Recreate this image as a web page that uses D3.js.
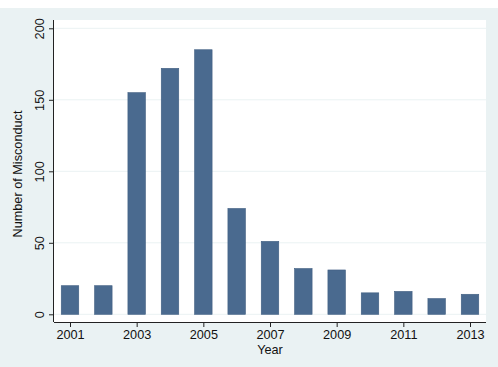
<!DOCTYPE html>
<meta charset="utf-8">
<script src="https://d3js.org/d3.v7.min.js"></script>
<style>
  body { margin: 0; background: #fff; }
  text { font-family: "Liberation Sans", Arial, sans-serif; fill: #111; }
</style>
<div id="my_dataviz"></div>
<script>
// data
var years = [2001, 2002, 2003, 2004, 2005, 2006, 2007, 2008, 2009, 2010, 2011, 2012, 2013];
var counts = [20, 20, 155, 172, 185, 74, 51, 32, 31, 15, 16, 11, 14];
var xTicks = [2001, 2003, 2005, 2007, 2009, 2011, 2013];
var yTicks = [0, 50, 100, 150, 200];

var W = 498, H = 367;
var fs = 12.7;
var svg = d3.select("#my_dataviz")
  .append("svg")
    .attr("width", W)
    .attr("height", H);

// outer graph region
svg.append("rect")
  .attr("x", 0).attr("y", 8).attr("width", W).attr("height", H - 8)
  .attr("fill", "#eaf2f3");

// plot region
var plot = {left: 54, right: 486, top: 20, bottom: 322};
svg.append("rect")
  .attr("x", plot.left).attr("y", plot.top)
  .attr("width", plot.right - plot.left).attr("height", plot.bottom - plot.top)
  .attr("fill", "#fff");

var x = d3.scaleLinear().domain([2001, 2013]).range([70, 470]);
var y = d3.scaleLinear().domain([0, 200]).range([314.3, 28.3]);
var barW = 17.5;

// gridlines
svg.append("g")
  .selectAll("line")
  .data(yTicks)
  .enter()
  .append("line")
    .attr("x1", plot.left).attr("x2", plot.right)
    .attr("y1", function(d) { return y(d) })
    .attr("y2", function(d) { return y(d) })
    .attr("stroke", "#eaf2f3")
    .attr("stroke-width", 1);

// bars
svg.append("g")
  .selectAll("rect")
  .data(years)
  .enter()
  .append("rect")
    .attr("x", function(d) { return x(d) - barW / 2 })
    .attr("y", function(d, i) { return y(counts[i]) })
    .attr("width", barW)
    .attr("height", function(d, i) { return y(0) - y(counts[i]) })
    .attr("fill", "#4a6a8f")
    .attr("stroke", "#3f5d80")
    .attr("stroke-width", 0.6);

// X axis
var xAxis = svg.append("g")
  .attr("transform", "translate(0," + plot.bottom + ")")
  .call(d3.axisBottom(x).tickValues(xTicks).tickFormat(d3.format("d")).tickSize(5).tickPadding(3));
xAxis.select(".domain").attr("d", "M" + plot.left + ",0.5H" + plot.right).attr("stroke", "#222");
xAxis.selectAll(".tick line").attr("stroke", "#222");
xAxis.selectAll("text").attr("font-size", fs).attr("font-family", "Liberation Sans, Arial, sans-serif").attr("fill", "#111");

// Y axis
var yAxis = svg.append("g")
  .attr("transform", "translate(" + plot.left + ",0)")
  .call(d3.axisLeft(y).tickValues(yTicks).tickSize(5).tickPadding(4));
yAxis.select(".domain").attr("d", "M-0.5," + plot.top + "V" + plot.bottom).attr("stroke", "#222");
yAxis.selectAll(".tick line").attr("stroke", "#222");
yAxis.selectAll("text")
  .attr("font-size", fs)
  .attr("font-family", "Liberation Sans, Arial, sans-serif")
  .attr("fill", "#111")
  .attr("x", null).attr("dy", null)
  .attr("text-anchor", "middle")
  .attr("transform", "translate(-10.5,0) rotate(-90)");

// axis titles
svg.append("text")
  .attr("x", 270).attr("y", 354)
  .attr("text-anchor", "middle")
  .attr("font-size", fs)
  .text("Year");

svg.append("text")
  .attr("transform", "translate(22," + ((plot.top + plot.bottom) / 2 + 3) + ") rotate(-90)")
  .attr("text-anchor", "middle")
  .attr("font-size", fs)
  .text("Number of Misconduct");
</script>
